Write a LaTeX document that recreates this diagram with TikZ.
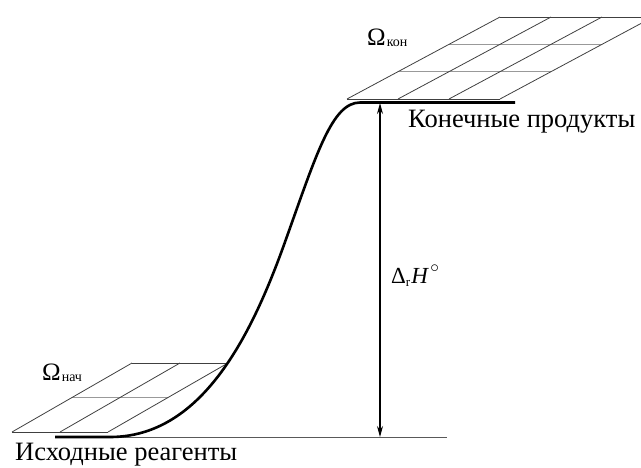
\documentclass[tikz,border=0pt]{standalone}
\usepackage{fontspec}
\setmainfont{Liberation Serif}
\usetikzlibrary{arrows.meta}
\begin{document}
\begin{tikzpicture}[x=1pt,y=-1pt,
  gridd/.style={line width=0.8pt, black!75},
  gridh/.style={line width=0.8pt, black!40},
  thickline/.style={line width=2.6pt},
  thinline/.style={line width=0.9pt, black!65},
  dimarrow/.style={line width=1.2pt, {Stealth[length=11pt,width=6pt]}-{Stealth[length=11pt,width=6pt]}},
  lbl/.style={font=\fontsize{26.5}{30}\selectfont, anchor=base west, inner sep=0pt},
  omg/.style={font=\fontsize{25}{28}\selectfont, anchor=base west, inner sep=0pt},
]
\useasboundingbox (0,0) rectangle (641,467);
\begin{scope}
\clip (0,0) rectangle (641,467);
% top grid (3x3)
\foreach \j in {1,2} {\draw[gridh] (347+153*\j/3, 99-82*\j/3) -- ++(153,0);}
\draw[gridd] (347,99) -- (500,99);
\draw[gridd] (500,17) -- (653,17);
\foreach \i in {0,1,2,3} {\draw[gridd] (347+51*\i,99) -- ++(153,-82);}
% bottom grid (2x2)
\draw[gridh] (72,397.5) -- ++(96,0);
\draw[gridd] (12,432) -- (108,432);
\draw[gridd] (132,363) -- (228,363);
\foreach \i in {0,1,2} {\draw[gridd] (12+48*\i,432) -- ++(120,-69);}
\end{scope}
% baseline
\coordinate (b0) at (55,437);
\coordinate (b1) at (447,437);
\draw[thinline] (b0) -- (b1);
% energy curve
\coordinate (c0) at (55,437);
\coordinate (c1) at (110,437);
\coordinate (cm) at (285,242);
\coordinate (c2) at (360,102.5);
\coordinate (c3) at (515,102.5);
\draw[thickline] (c0) -- (c1) .. controls (200,437) and (250,340) .. (cm)
  .. controls (316.5,154) and (332,102.5) .. (c2) -- (c3);
% dimension arrow
\coordinate (atop) at (380,103);
\coordinate (abot) at (380,437);
\draw[dimarrow] (atop) -- (abot);
% labels
\node[lbl] (prod) at (408,127) {Конечные продукты};
\node[lbl] (reag) at (15,460) {Исходные реагенты};
\node[omg] (okon) at (367,45) {Ω\kern1pt\raisebox{-0.15ex}{\fontsize{14}{14}\selectfont кон}};
\node[omg] (onach) at (42,380) {Ω\kern1pt\raisebox{-0.15ex}{\fontsize{14}{14}\selectfont нач}};
\node[omg, font=\fontsize{23}{26}\selectfont] (dh) at (391,283) {Δ\raisebox{-0.3ex}{\fontsize{13}{13}\selectfont r}\kern1pt\textit{H}\kern1.5pt\raisebox{1.0ex}{\fontsize{19}{19}\selectfont$\circ$}};
\end{tikzpicture}
\end{document}
